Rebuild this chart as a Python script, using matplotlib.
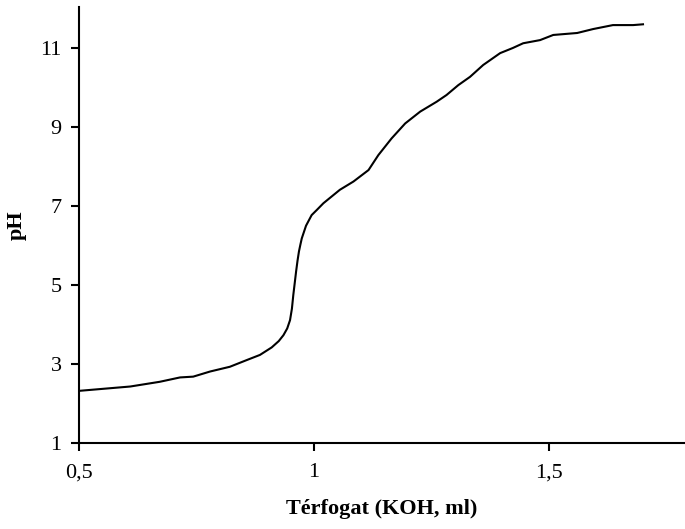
import matplotlib
matplotlib.use("Agg")
import matplotlib.pyplot as plt

volume = [0.5, 0.609, 0.672, 0.715, 0.743, 0.779, 0.821, 0.857, 0.885, 0.910, 0.925,
          0.935, 0.943, 0.949, 0.953, 0.956, 0.959, 0.962, 0.965, 0.968, 0.971, 0.974,
          0.983, 0.995, 1.006, 1.020, 1.055, 1.084, 1.116, 1.137, 1.165, 1.194, 1.226,
          1.261, 1.282, 1.307, 1.332, 1.360, 1.396, 1.423, 1.445, 1.481, 1.509, 1.560,
          1.594, 1.636, 1.679, 1.70]
ph = [2.32, 2.43, 2.55, 2.66, 2.68, 2.81, 2.93, 3.10, 3.23, 3.42, 3.58,
      3.73, 3.90, 4.11, 4.40, 4.75, 5.05, 5.35, 5.62, 5.85, 6.02, 6.18,
      6.50, 6.77, 6.90, 7.07, 7.41, 7.62, 7.91, 8.29, 8.71, 9.09, 9.39,
      9.64, 9.81, 10.06, 10.27, 10.57, 10.87, 11.0, 11.12, 11.2, 11.33, 11.38,
      11.48, 11.58, 11.58, 11.6]
xticks = [0.5, 1.0, 1.5]
xticklabels = ["0,5", "1", "1,5"]
yticks = [1, 3, 5, 7, 9, 11]

plt.rcParams['font.family'] = ['Liberation Serif', 'DejaVu Serif']
fig = plt.figure(figsize=(6.85, 5.29), dpi=100)
ax = fig.add_axes([79/685, 86/529, 1 - 79/685, (443 - 7)/529])
ax.plot(volume, ph, color='black', lw=1.5)
ax.set_xlim(0.5, 0.5 + (685 - 79) / 470)
ax.set_ylim(1, 1 + (443 - 7) / 39.5)
ax.set_xticks(xticks)
ax.set_xticklabels(xticklabels)
ax.set_yticks(yticks)
for s in ['top', 'right']:
    ax.spines[s].set_visible(False)
for s in ['left', 'bottom']:
    ax.spines[s].set_linewidth(1.5)
ax.tick_params(axis='both', direction='out', length=5.5, width=1.5, labelsize=16)
ax.tick_params(axis='x', pad=9)
ax.tick_params(axis='y', pad=7)
ax.set_xlabel('Térfogat (KOH, ml)', fontsize=16, fontweight='bold', labelpad=12)
ax.set_ylabel('pH', fontsize=16, fontweight='bold', labelpad=10)
fig.savefig('out.png', dpi=100)
